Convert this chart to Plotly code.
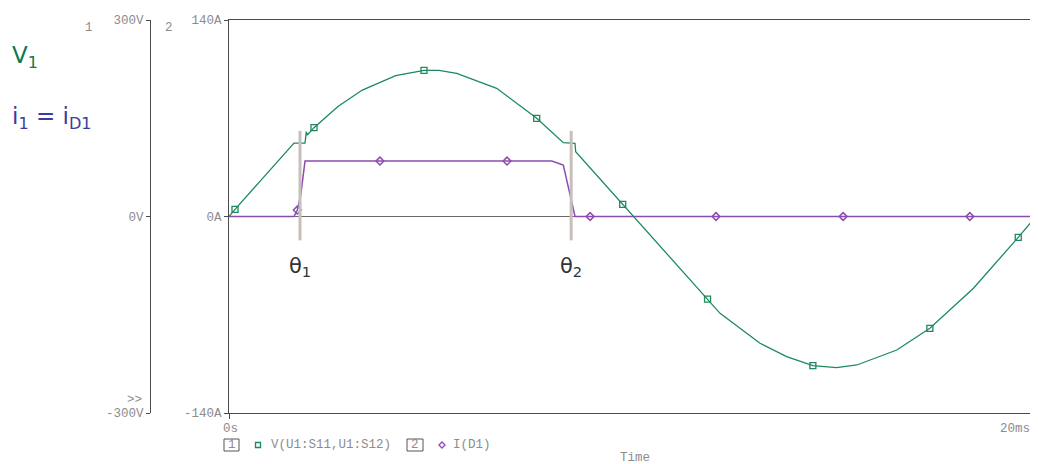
import numpy as np
import plotly.graph_objects as go

# ---- data (time in ms) ----
t_v = [0, 0.149, 0.8, 1.611, 1.884, 1.916, 1.940, 2.106, 2.7, 3.304, 4.131, 4.833,
       5.204, 5.643, 6.634, 7.626, 8.285, 8.575, 8.592, 9.757, 10.02, 11.86, 12.17,
       13.16, 13.82, 14.47, 14.90, 15.06, 15.56, 16.55, 17.37, 18.45, 19.56, 20.0]
v_vals = [0, 11, 56, 112, 112, 129.5, 124.4, 135.6, 168, 193, 215, 223,
          223, 218.6, 195.7, 149.9, 112.7, 111.8, 98.9, 18.6, 0, -126, -147.8,
          -193.6, -214, -227.8, -230.2, -230.8, -226.7, -203.8, -170.7, -109.6, -31.8, 0]

t_i = [0, 1.611, 1.693, 1.777, 1.884, 8.0, 8.285, 8.575, 20]
i_vals = [0, 0, 4.6, 15.3, 39.5, 39.5, 36.7, 0, 0]

v_marker_t = [0.149, 2.106, 4.833, 7.626, 9.757, 11.86, 14.47, 17.37, 19.56]
i_marker_t = [1.693, 3.74, 6.89, 8.95, 12.07, 15.22, 18.36]

theta_t = [1.76, 8.48]
theta_labels = ["θ<sub>1</sub>", "θ<sub>2</sub>"]
theta_span = [-17, 61]

v_ticks = [-300, 0, 300]
v_ticktext = ["-300V", "0V", "300V"]
i_ticks = [-140, 0, 140]
i_ticktext = ["-140A", "0A", "140A"]

GREEN = "#1c8a5c"
PURPLE = "#8a4cb0"
AX = "#4a4a4a"
LBL = "#8c8c8c"
MONO = "Liberation Mono, Courier New, monospace"

# page body has an 8px margin: shift the whole figure geometry by it
OX, OY = 8, 8
W, H = 1038 - OX, 464 - OY
L, R, T, B = 150 - OX, 2, 20 - OY, 51
PW, PH = W - L - R, H - T - B


def px(x):
    return (x - OX - L) / PW


def py(y):
    return (H - B - (y - OY)) / PH


fig = go.Figure()
fig.add_trace(go.Scatter(x=t_v, y=v_vals, mode="lines", yaxis="y2",
                         line=dict(color=GREEN, width=1.3), showlegend=False))
fig.add_trace(go.Scatter(x=v_marker_t, y=np.interp(v_marker_t, t_v, v_vals), mode="markers",
                         yaxis="y2", marker=dict(symbol="square-open", size=6, color=GREEN,
                                                 line=dict(width=1.3)), showlegend=False))
fig.add_trace(go.Scatter(x=t_i, y=i_vals, mode="lines", yaxis="y",
                         line=dict(color=PURPLE, width=1.5), showlegend=False))
fig.add_trace(go.Scatter(x=i_marker_t, y=np.interp(i_marker_t, t_i, i_vals), mode="markers",
                         yaxis="y", marker=dict(symbol="diamond-open", size=6, color=PURPLE,
                                                line=dict(width=1.5)), showlegend=False))

shapes = []
annotations = []
for tt in theta_t:
    shapes.append(dict(type="line", xref="x", yref="y", x0=tt, x1=tt, y0=theta_span[0],
                       y1=theta_span[1], line=dict(color="#c6bfbb", width=3), layer="above"))
for tt, lab in zip(theta_t, theta_labels):
    annotations.append(dict(x=tt, y=-36, xref="x", yref="y", text=lab, showarrow=False,
                            font=dict(family="DejaVu Sans", size=21, color="#333333"),
                            xanchor="center", yanchor="middle"))

# left labels
annotations.append(dict(x=px(10), y=py(57), xref="paper", yref="paper", text="V<sub>1</sub>",
                        showarrow=False, xanchor="left", yanchor="middle",
                        font=dict(family="DejaVu Sans", size=23, color="#0f7a4e")))
annotations.append(dict(x=px(10), y=py(118), xref="paper", yref="paper",
                        text="i<sub>1</sub> = i<sub>D1</sub>",
                        showarrow=False, xanchor="left", yanchor="middle",
                        font=dict(family="DejaVu Sans", size=23, color="#3c3c9e")))

small = dict(family=MONO, size=12.5, color=LBL)
for txt, x, y, xa in [("1", 89, 28, "center"), ("2", 169, 28, "center"), (">>", 144, 400, "right"),
                      ("0s", 230, 429, "center"), ("20ms", 1032, 429, "right"),
                      ("V(U1:S11,U1:S12)", 269, 445, "left"), ("I(D1)", 451, 445, "left"),
                      ("1", 231.5, 445, "center"), ("2", 415, 445, "center"),
                      ("Time", 635, 457.5, "center")]:
    annotations.append(dict(x=px(x), y=py(y), xref="paper", yref="paper", text=txt,
                            showarrow=False, xanchor=xa, yanchor="middle", font=small))

# legend boxes and symbols
for x0, x1 in [(224, 239), (407, 423)]:
    shapes.append(dict(type="rect", xref="paper", yref="paper", x0=px(x0), x1=px(x1),
                       y0=py(451), y1=py(439), line=dict(color="#555555", width=1)))
shapes.append(dict(type="rect", xref="paper", yref="paper", x0=px(255.5), x1=px(260.5),
                   y0=py(447.5), y1=py(442.5), line=dict(color=GREEN, width=1.3)))
cx, cy = 442, 445
shapes.append(dict(type="path", xref="paper", yref="paper",
                   path=f"M {px(cx-3)} {py(cy)} L {px(cx)} {py(cy-3)} L {px(cx+3)} {py(cy)} L {px(cx)} {py(cy+3)} Z",
                   line=dict(color=PURPLE, width=1.3)))

x_dom0 = px(229)
fig.update_layout(
    width=W, height=H,
    margin=dict(l=L, r=R, t=T, b=B),
    paper_bgcolor="white", plot_bgcolor="white",
    xaxis=dict(domain=[x_dom0, 1], range=[0, 20], tickvals=[0, 20], showticklabels=False,
               ticks="outside", ticklen=5, tickcolor=AX, showline=True, linecolor=AX,
               linewidth=1, mirror=True, showgrid=False, zeroline=False),
    yaxis=dict(range=[-140, 140], tickvals=i_ticks, ticktext=i_ticktext, ticks="outside",
               ticklen=4, tickcolor=AX, showline=True, linecolor=AX, linewidth=1, mirror=True,
               showgrid=False, zeroline=True, zerolinecolor="#6a6a6a", zerolinewidth=1,
               tickfont=small),
    yaxis2=dict(range=[-300, 300], tickvals=v_ticks, ticktext=v_ticktext, ticks="outside",
                ticklen=4, tickcolor=AX, showline=True, linecolor=AX, linewidth=1,
                overlaying="y", anchor="free", position=0, side="left",
                showgrid=False, zeroline=False, tickfont=small),
    shapes=shapes, annotations=annotations, showlegend=False,
)

fig.write_html("out.html")
